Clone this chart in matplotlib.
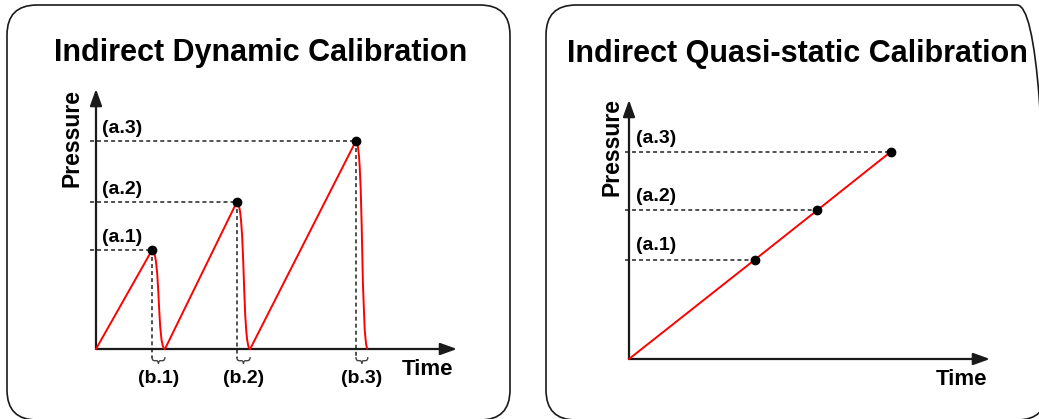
import matplotlib
matplotlib.use("Agg")
import matplotlib.pyplot as plt
from matplotlib.patches import FancyBboxPatch, PathPatch
from matplotlib.path import Path

plt.rcParams["font.family"] = ["Liberation Sans", "DejaVu Sans"]
plt.rcParams["font.weight"] = "bold"

# dynamic calibration: ramps up to a peak, then fast release to zero
dyn_peak_time = [1.55, 3.90, 7.20]
dyn_drop_end = [1.91, 4.27, 7.53]
dyn_peak_pressure = [3.80, 5.65, 8.00]
dyn_peak_labels = ["(a.1)", "(a.2)", "(a.3)"]
dyn_drop_labels = ["(b.1)", "(b.2)", "(b.3)"]

# quasi-static calibration: one slow ramp, three reading points
qs_time = [3.49, 5.21, 7.25]
qs_pressure = [3.84, 5.74, 8.00]
qs_labels = ["(a.1)", "(a.2)", "(a.3)"]

titles = ["Indirect Dynamic Calibration", "Indirect Quasi-static Calibration"]

W, H = 1039, 419
RED = "#ff0000"
AX_COL = "#1a1a1a"
DASH_COL = "#222222"

fig = plt.figure(figsize=(W / 100, H / 100), dpi=100)

# background layer in pixel coordinates (y up) for frames and titles
bg = fig.add_axes([0, 0, 1, 1])
bg.set_xlim(0, W)
bg.set_ylim(0, H)
bg.axis("off")
for x0, w in [(7, 503), (546, 501)]:
    bg.add_patch(FancyBboxPatch((x0, H - 420), w, 415, boxstyle="round,pad=0,rounding_size=30",
                                fc="none", ec=AX_COL, lw=1.2, clip_on=False))
bg.text(261, H - 61, titles[0], ha="center", va="baseline", fontsize=22, fontweight="bold")
bg.text(797, H - 62, titles[1], ha="center", va="baseline", fontsize=22, fontweight="bold")


def panel(ox, oy, xend, ytop):
    ax = fig.add_axes([ox / W, (H - oy) / H, (xend - ox) / W, (oy - ytop) / H])
    ax.set_xlim(0, 10)
    ax.set_ylim(0, 10)
    ax.axis("off")
    arrow = dict(arrowstyle="-|>,head_length=1.0,head_width=0.36", lw=1.6, color=AX_COL,
                 shrinkA=0, shrinkB=0, mutation_scale=10)
    ax.annotate("", xy=(10, 0), xytext=(0, 0), arrowprops=arrow, annotation_clip=False)
    ax.annotate("", xy=(0, 10), xytext=(0, 0), arrowprops=arrow, annotation_clip=False)
    return ax


def dashed(ax, xs, ys):
    ax.plot(xs, ys, color=DASH_COL, lw=1.1, dashes=(2.6, 2.0), clip_on=False, zorder=1)


def drop_curve(t0, t1, p):
    w = t1 - t0
    verts = [(t0, p), (t0 + 0.65 * w, p), (t0 + 0.4 * w, 0), (t1, 0)]
    codes = [Path.MOVETO, Path.CURVE4, Path.CURVE4, Path.CURVE4]
    return PathPatch(Path(verts, codes), fc="none", ec=RED, lw=1.4, clip_on=False, zorder=3)


def brace(t0, t1, a=-0.31, b=-0.45, c=-0.56):
    w = t1 - t0
    m = (t0 + t1) / 2
    verts = [(t0, a), (t0, b), (t0 + 0.2 * w, b), (m - 0.15 * w, b), (m, b), (m, c),
             (m, b), (m + 0.15 * w, b), (t1 - 0.2 * w, b), (t1, b), (t1, a)]
    codes = [Path.MOVETO, Path.CURVE3, Path.CURVE3, Path.LINETO, Path.CURVE3, Path.CURVE3,
             Path.CURVE3, Path.CURVE3, Path.LINETO, Path.CURVE3, Path.CURVE3]
    return PathPatch(Path(verts, codes), fc="none", ec="#444444", lw=1.0, clip_on=False)


# left panel
ax1 = panel(96, 349, 457, 89)
starts = [0] + dyn_drop_end[:-1]
for t_s, t_p, t_e, p, la, lb in zip(starts, dyn_peak_time, dyn_drop_end, dyn_peak_pressure,
                                     dyn_peak_labels, dyn_drop_labels):
    dashed(ax1, [-0.17, t_p], [p, p])
    dashed(ax1, [t_p, t_p], [p, -0.35])
    ax1.plot([t_s, t_p], [0, p], color=RED, lw=1.4, clip_on=False, zorder=3)
    ax1.add_patch(drop_curve(t_p, t_e, p))
    ax1.add_patch(brace(t_p, t_e))
    ax1.plot(t_p, p, "o", color="black", ms=6, clip_on=False, zorder=4)
    ax1.text(0.17, p + 0.15, la, ha="left", va="bottom", fontsize=14, fontweight="bold")
    ax1.text((t_p + t_e) / 2, -1.15, lb, ha="center", va="center", fontsize=14, fontweight="bold")
ax1.text(8.48, -1.0, "Time", ha="left", va="baseline", fontsize=16, fontweight="bold")
ax1.text(-0.66, 8.1, "Pressure", ha="center", va="center", rotation=90, fontsize=16.5,
         fontweight="bold")

# right panel
ax2 = panel(629, 359, 990, 100)
ax2.plot([0] + qs_time, [0] + qs_pressure, color=RED, lw=1.4, clip_on=False, zorder=3)
for t, p, la in zip(qs_time, qs_pressure, qs_labels):
    dashed(ax2, [-0.11, t], [p, p])
    ax2.plot(t, p, "o", color="black", ms=6, clip_on=False, zorder=4)
    ax2.text(0.19, p + 0.2, la, ha="left", va="bottom", fontsize=14, fontweight="bold")
ax2.text(8.5, -1.0, "Time", ha="left", va="baseline", fontsize=16, fontweight="bold")
ax2.text(-0.48, 8.2, "Pressure", ha="center", va="center", rotation=90, fontsize=16.5,
         fontweight="bold")

fig.savefig("out.png", dpi=100)
